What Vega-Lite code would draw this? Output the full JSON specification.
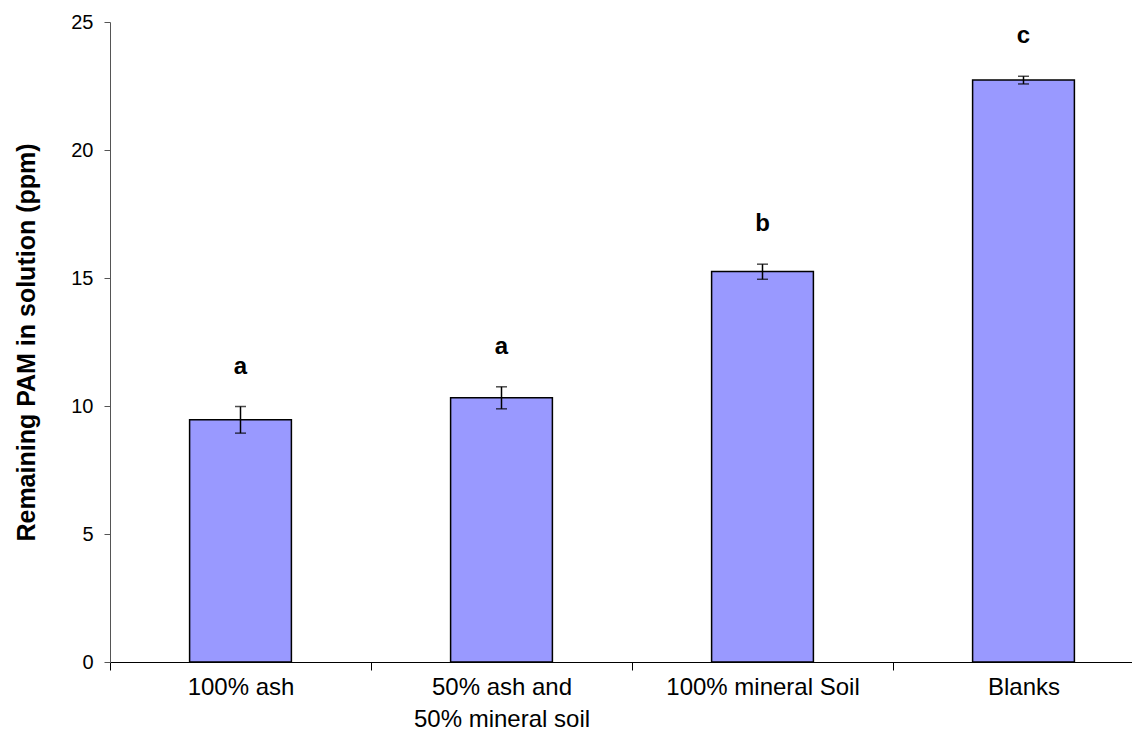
{
  "$schema": "https://vega.github.io/schema/vega-lite/v6.json",
  "autosize": {"type": "none"},
  "width": 1022,
  "height": 640,
  "padding": {"left": 110, "top": 22, "right": 0, "bottom": 83},
  "background": "white",
  "config": {
    "view": {"stroke": null},
    "font": "Liberation Sans"
  },
  "data": {
    "values": [
      {"treatment": "100% ash", "mean": 9.46, "lo": 8.94, "hi": 9.98, "group": "a"},
      {"treatment": "50% ash and 50% mineral soil", "mean": 10.32, "lo": 9.89, "hi": 10.75, "group": "a"},
      {"treatment": "100% mineral Soil", "mean": 15.25, "lo": 14.95, "hi": 15.54, "group": "b"},
      {"treatment": "Blanks", "mean": 22.73, "lo": 22.58, "hi": 22.88, "group": "c"}
    ]
  },
  "encoding": {
    "x": {
      "field": "treatment",
      "type": "nominal",
      "sort": null,
      "scale": {"range": [0, 1044], "paddingInner": 0, "paddingOuter": 0},
      "axis": {
        "title": null,
        "labelAngle": 0,
        "labelFontSize": 24,
        "labelColor": "black",
        "labelPadding": 5,
        "labelLineHeight": 32,
        "labelLimit": 400,
        "labelExpr": "datum.label == '50% ash and 50% mineral soil' ? ['50% ash and', '50% mineral soil'] : datum.label",
        "tickBand": "extent",
        "tickSize": 8,
        "tickColor": "black",
        "domainColor": "black",
        "domainWidth": 1,
        "labelBaseline": "top"
      }
    }
  },
  "layer": [
    {
      "mark": {"type": "bar", "fill": "#9999FF", "stroke": "black", "strokeWidth": 1.5, "width": {"band": 0.39}},
      "encoding": {
        "y": {
          "field": "mean",
          "type": "quantitative",
          "scale": {"domain": [0, 25], "nice": false},
          "axis": {
            "title": "Remaining PAM in solution (ppm)",
            "titleFontSize": 25,
            "titleFontWeight": "bold",
            "titleColor": "black",
            "titleX": -84,
            "titleY": 320,
            "titleAngle": 270,
            "titleBaseline": "middle",
            "titleAlign": "center",
            "values": [0, 5, 10, 15, 20, 25],
            "labelFontSize": 20,
            "labelColor": "black",
            "labelPadding": 11,
            "tickSize": 6,
            "tickColor": "#555",
            "domainColor": "#555",
            "grid": false
          }
        }
      }
    },
    {
      "mark": {"type": "rule", "color": "black", "strokeWidth": 1.5},
      "encoding": {
        "y": {"field": "lo", "type": "quantitative"},
        "y2": {"field": "hi"}
      }
    },
    {
      "mark": {"type": "tick", "color": "black", "thickness": 1.5, "size": 11},
      "encoding": {"y": {"field": "lo", "type": "quantitative"}}
    },
    {
      "mark": {"type": "tick", "color": "black", "thickness": 1.5, "size": 11},
      "encoding": {"y": {"field": "hi", "type": "quantitative"}}
    },
    {
      "mark": {"type": "text", "fontSize": 24, "fontWeight": "bold", "color": "black", "baseline": "middle", "dy": -40},
      "encoding": {
        "y": {"field": "hi", "type": "quantitative"},
        "text": {"field": "group", "type": "nominal"}
      }
    }
  ]
}
